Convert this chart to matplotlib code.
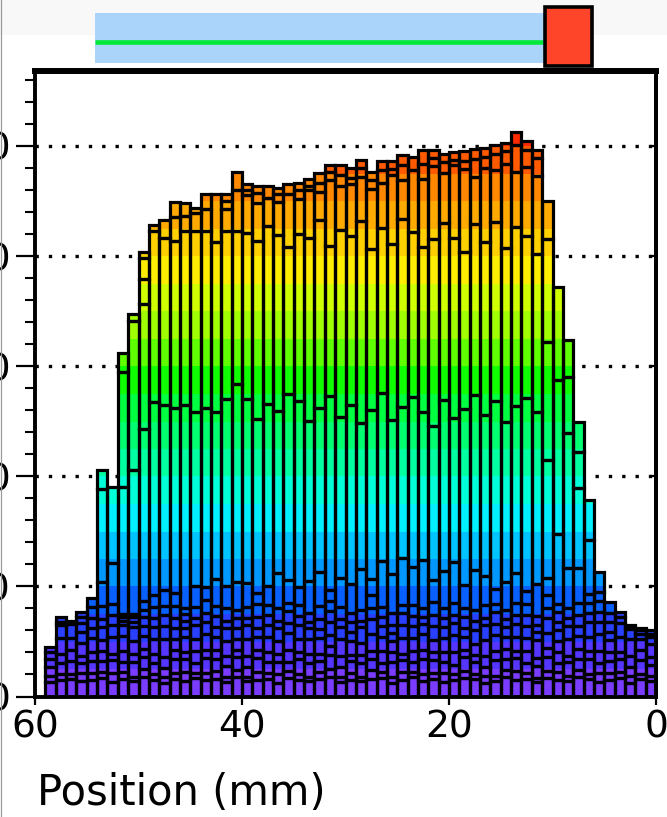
import numpy as np
import matplotlib
matplotlib.use('Agg')
import matplotlib.pyplot as plt
from matplotlib.colors import ListedColormap, BoundaryNorm
from matplotlib.path import Path
from matplotlib.patches import PathPatch, Rectangle
from matplotlib.ticker import MultipleLocator

plt.rcParams['font.family'] = ['DejaVu Sans']

# 1 mm bins, left edge of each bin (position in mm)
bin_left = np.arange(59)

# total height of each bin (bin 0 = 0-1 mm)
totals = [6.0, 6.2, 6.5, 7.7, 8.6, 11.3, 17.8, 24.9, 32.4, 37.2,
          45.0, 49.6, 50.4, 51.3, 50.3, 50.1, 49.8, 49.7, 49.5, 49.4,
          49.3, 49.6, 49.6, 49.0, 49.2, 48.6, 48.6, 47.6, 48.7, 48.0,
          48.3, 48.3, 47.5, 47.0, 46.6, 46.5, 46.2, 46.4, 46.4, 46.5,
          47.6, 45.6, 45.6, 45.6, 44.4, 44.8, 44.9, 43.3, 42.8, 40.4,
          34.7, 31.2, 19.0, 20.6, 8.9, 7.7, 6.9, 7.2, 4.5]

# thin stacked layers at the bottom of every bin
s1 = [1.4, 1.6, 1.2, 1.7, 1.5, 1.3, 1.6, 1.8, 1.4, 1.5,
      1.7, 1.3, 1.6, 1.5, 1.8, 1.4, 1.2, 1.6, 1.7, 1.5,
      1.3, 1.6, 1.4, 1.8, 1.5, 1.2, 1.7, 1.6, 1.4, 1.5,
      1.3, 1.8, 1.6, 1.4, 1.5, 1.7, 1.2, 1.6, 1.5, 1.4,
      1.8, 1.3, 1.6, 1.5, 1.7, 1.4, 1.6, 1.2, 1.5, 1.8,
      1.4, 1.6, 1.3, 1.7, 1.5, 1.4, 1.6, 1.5, 1.3]
s2 = [0.5, 0.4, 0.7, 0.5, 0.6, 0.8, 0.4, 0.6, 0.5, 0.7,
      0.6, 0.4, 0.5, 0.8, 0.6, 0.5, 0.7, 0.4, 0.6, 0.5,
      0.8, 0.5, 0.6, 0.4, 0.7, 0.6, 0.5, 0.8, 0.4, 0.6,
      0.5, 0.7, 0.6, 0.4, 0.5, 0.6, 0.8, 0.5, 0.7, 0.4,
      0.6, 0.5, 0.7, 0.6, 0.4, 0.8, 0.5, 0.6, 0.5, 0.7,
      0.4, 0.6, 0.8, 0.5, 0.6, 0.7, 0.4, 0.5, 0.6]
s3 = [1.0, 1.3, 0.8, 1.2, 1.1, 0.9, 1.4, 1.0, 1.2, 0.8,
      1.3, 1.1, 0.9, 1.2, 1.0, 1.4, 0.8, 1.1, 1.3, 0.9,
      1.0, 1.2, 1.4, 0.9, 1.1, 1.3, 0.8, 1.0, 1.2, 1.1,
      0.9, 1.3, 1.0, 1.2, 1.4, 0.8, 1.1, 1.0, 1.3, 0.9,
      1.2, 1.0, 1.1, 1.4, 0.9, 1.2, 1.3, 0.8, 1.0, 1.1,
      1.3, 0.9, 1.2, 1.0, 1.1, 0.9, 1.2, 1.0, 0.8]
s4 = [0.7, 0.9, 1.0, 0.6, 0.8, 1.1, 0.7, 0.9, 0.6, 1.0,
      0.8, 0.7, 1.1, 0.6, 0.9, 0.8, 1.0, 0.7, 0.6, 1.1,
      0.9, 0.7, 0.8, 1.0, 0.6, 0.9, 1.1, 0.7, 0.8, 0.6,
      1.0, 0.8, 0.7, 0.9, 0.6, 1.1, 0.8, 0.9, 0.7, 1.0,
      0.6, 0.9, 0.8, 0.7, 1.1, 0.6, 0.8, 1.0, 0.9, 0.7,
      0.8, 1.0, 0.6, 0.9, 0.8, 0.7, 1.0, 0.9, 0.7]
s5 = [1.2, 1.0, 1.5, 1.4, 1.1, 1.6, 1.3, 1.2, 1.5, 1.0,
      1.4, 1.6, 1.2, 1.3, 1.1, 1.5, 1.4, 1.0, 1.2, 1.6,
      1.3, 1.1, 1.5, 1.2, 1.4, 1.0, 1.3, 1.6, 1.1, 1.2,
      1.5, 1.0, 1.4, 1.3, 1.2, 1.6, 1.1, 1.4, 1.2, 1.5,
      1.0, 1.3, 1.2, 1.5, 1.1, 1.4, 1.0, 1.6, 1.3, 1.2,
      1.1, 1.4, 1.5, 1.0, 1.3, 1.2, 1.1, 1.4, 0.6]
s6 = [0.6, 0.5, 0.9, 1.3, 0.8, 1.1, 1.4, 0.9, 1.2, 1.0,
      1.3, 0.8, 1.1, 1.2, 0.9, 1.0, 1.4, 1.2, 0.8, 1.1,
      1.0, 1.3, 0.9, 1.1, 1.2, 0.8, 1.0, 1.3, 1.4, 0.9,
      1.1, 1.2, 0.8, 1.0, 1.3, 0.9, 1.2, 1.1, 0.8, 1.3,
      1.0, 1.2, 0.9, 1.1, 1.3, 0.8, 1.0, 1.2, 1.1, 0.9,
      1.3, 1.0, 1.1, 1.2, 0.9, 1.0, 1.3, 1.2, 0.0]
s7 = [0.3, 0.3, 0.2, 0.5, 0.9, 0.9, 0.8, 1.0, 0.7, 0.8,
      0.9, 0.6, 1.0, 0.8, 0.7, 1.1, 0.6, 0.9, 1.0, 0.7,
      0.8, 1.0, 0.6, 0.9, 1.1, 0.7, 0.8, 1.0, 0.6, 0.9,
      0.7, 1.0, 0.9, 0.6, 0.8, 1.1, 0.7, 0.9, 1.0, 0.6,
      0.9, 0.7, 1.0, 0.8, 0.6, 0.7, 0.9, 1.0, 0.8, 0.8,
      0.5, 0.4, 0.9, 0.7, 0.9, 0.8, 0.0, 0.3, 0.0]
s8 = [0.0, 0.0, 0.0, 0.0, 0.8, 1.0, 0.9, 1.1, 0.9, 0.9,
      1.2, 0.8, 1.0, 1.1, 0.9, 0.7, 1.2, 1.0, 0.8, 1.1,
      0.9, 1.2, 0.8, 1.0, 0.7, 1.1, 0.9, 1.2, 1.0, 0.8,
      1.1, 0.9, 1.2, 0.8, 1.0, 0.7, 1.1, 0.9, 1.2, 1.0,
      0.8, 1.1, 0.9, 1.2, 1.0, 0.6, 1.1, 0.8, 1.0, 0.7,
      0.4, 0.3, 1.0, 1.2, 1.0, 0.5, 0.0, 0.0, 0.0]

nan = np.nan
# heights of the larger segment boundaries in each bin (nan = none)
lvl_blue = [nan, nan, nan, nan, nan, 9.5, 9.3, 11.7, 11.7, 8.4,
            10.8, 10.2, 9.6, 11.2, 10.4, 9.8, 10.9, 11.5, 10.1, 12.2,
            11.4, 10.6, 12.4, 11.8, 12.6, 11.1, 12.3, 10.7, 11.6, 10.2,
            10.8, 9.7, 11.3, 10.5, 9.9, 10.6, 11.2, 10.0, 9.4, 10.3,
            10.4, 10.0, 10.7, 9.9, 10.0, 8.0, 9.4, 9.7, 9.2, 8.7,
            7.5, 7.5, 12.1, 10.4, nan, nan, nan, nan, nan]
lvl_cyan = [nan, nan, nan, nan, nan, nan, 14.2, 18.9, 23.9, 14.8,
            21.5, 25.8, 27.1, 26.4, 24.9, 26.8, 25.6, 27.4, 26.1, 25.3,
            26.9, 24.6, 25.8, 27.2, 26.3, 25.1, 27.6, 26.0, 24.8, 26.5,
            25.4, 27.3, 26.2, 25.0, 26.8, 27.5, 25.9, 26.6, 25.2, 27.0,
            28.4, 27.0, 25.8, 26.2, 25.8, 26.5, 26.2, 26.5, 26.7, 24.3,
            20.6, 19.0, nan, 18.8, nan, nan, nan, nan, nan]
lvl_green = [nan, nan, nan, nan, nan, nan, nan, 22.2, 29.0, 28.7,
             32.2, 40.2, 41.8, 42.6, 40.7, 43.1, 41.3, 42.9, 40.4, 41.6,
             43.0, 41.5, 40.8, 42.2, 43.4, 41.1, 42.5, 40.6, 43.2, 41.8,
             42.4, 40.9, 43.3, 41.6, 42.0, 40.8, 41.9, 42.7, 41.4, 42.1,
             42.3, 42.3, 41.3, 42.3, 42.3, 42.3, 41.4, 41.6, 42.3, 35.6,
             34.1, 29.5, nan, nan, nan, nan, nan, nan, nan]
lvl_orange = [nan, nan, nan, nan, nan, nan, nan, nan, nan, nan,
              41.5, 47.3, 48.1, 47.6, 48.4, 47.8, 48.0, 47.2, 47.9, 48.3,
              47.5, 48.2, 47.0, 47.8, 46.9, 47.4, 46.6, 46.1, 47.2, 46.5,
              46.4, 46.9, 45.8, 46.0, 45.2, 45.6, 44.9, 45.3, 44.8, 45.5,
              46.0, 44.3, nan, 44.3, 43.9, 43.6, 43.5, nan, nan, 37.9,
              nan, nan, nan, nan, nan, nan, nan, nan, nan]
lvl_top = [nan, nan, nan, nan, nan, nan, nan, nan, nan, nan,
           nan, 48.9, 49.6, 50.1, 49.5, 49.3, 49.0, 48.8, 48.6, 48.7,
           48.5, 48.9, 48.4, nan, 48.3, 47.9, 47.8, 46.9, 48.0, 47.1,
           47.4, 47.6, 46.6, 46.4, 46.0, nan, 45.6, nan, 45.7, 46.0,
           nan, 45.0, nan, nan, nan, nan, nan, nan, nan, 39.8,
           nan, nan, nan, nan, nan, nan, nan, nan, nan]

# height colour bands, bottom to top, 2.5 units each
band_colors = ['#7a3cff', '#5536ff', '#2a40ff', '#0860ff', '#0098ff',
               '#00c4ff', '#00f0ff', '#00ffd8', '#00ffa0', '#00ff70',
               '#00ff40', '#10ff00', '#60ff00', '#a0ff00', '#d0ff00',
               '#ffee00', '#ffd000', '#ffaa00', '#ff8800', '#ff5a00',
               '#ff2a00']

W, H = 667, 817
fig = plt.figure(figsize=(W / 100, H / 100), dpi=100)
fig.patch.set_facecolor('white')
ax = fig.add_axes([35 / W, 1 - 696.5 / H, 621 / W, 625.5 / H])
ymax = 56.8

# banded gradient, clipped to the outline of the bars
edges = np.arange(len(band_colors) + 1) * 2.5
cmap = ListedColormap(band_colors)
cmap.set_over(band_colors[-1])
norm = BoundaryNorm(edges, len(band_colors))
yy = np.linspace(0, ymax, 1200).reshape(-1, 1)
im = ax.imshow(yy, cmap=cmap, norm=norm, origin='lower', aspect='auto',
               extent=[0, 60, 0, ymax], interpolation='nearest', zorder=2)

verts, codes = [], []
for x0, t in zip(bin_left, totals):
    verts += [(x0, 0), (x0 + 1, 0), (x0 + 1, t), (x0, t), (x0, 0)]
    codes += [Path.MOVETO, Path.LINETO, Path.LINETO, Path.LINETO, Path.CLOSEPOLY]
clip = PathPatch(Path(verts, codes), transform=ax.transData,
                 facecolor='none', edgecolor='none')
ax.add_patch(clip)
im.set_clip_path(clip)

# outlines of the stacked segments
small = np.array([s1, s2, s3, s4, s5, s6, s7, s8])
levels = np.array([lvl_blue, lvl_cyan, lvl_green, lvl_orange, lvl_top])
for i in range(len(totals)):
    b = [0.0] + list(np.cumsum(small[:, i]))
    b += [v for v in levels[:, i] if np.isfinite(v)]
    b.append(totals[i])
    b = np.array(sorted(set(np.round(b, 3))))
    b = b[b <= totals[i]]
    h = np.diff(b)
    keep = h > 1e-6
    ax.bar(np.full(keep.sum(), bin_left[i]), h[keep], bottom=b[:-1][keep],
           width=1, align='edge', fill=False, edgecolor='black',
           linewidth=2.3, zorder=3)

ax.set_xlim(60, 0)
ax.set_ylim(0, ymax)

# axes styling
ax.set_yticks([0, 10, 20, 30, 40, 50])
ax.yaxis.set_minor_locator(MultipleLocator(2))
ax.set_xticks([60, 40, 20, 0])
ax.set_axisbelow(True)
ax.yaxis.grid(True, linestyle=(0, (1, 3.0)), linewidth=2.4, color='black')
ax.tick_params(axis='y', which='major', direction='out', length=14,
               width=1.6, labelsize=27, pad=3.5)
ax.tick_params(axis='y', which='minor', direction='out', length=7, width=1.5)
ax.tick_params(axis='x', which='major', direction='out', length=6,
               width=1.6, labelsize=27, pad=3)
for side in ['left', 'right', 'bottom']:
    ax.spines[side].set_linewidth(2.8)
ax.spines['top'].set_linewidth(4.3)

sec = ax.secondary_yaxis('right')
sec.set_yticks([10, 20, 30, 40, 50])
sec.tick_params(direction='in', length=4, width=1.6, labelright=False)
sec.spines['right'].set_linewidth(2.8)

fig.text(37 / W, 1 - 805 / H, 'Position (mm)', fontsize=30,
         ha='left', va='baseline')

# strip above the plot
ov = fig.add_axes([0, 0, 1, 1], zorder=5)
ov.set_xlim(0, W)
ov.set_ylim(H, 0)
ov.axis('off')
ov.patch.set_alpha(0)
ov.add_patch(Rectangle((0, 0), W, 35, facecolor='#f8f8f8', edgecolor='none', zorder=0))
ov.add_patch(Rectangle((95, 13), 449, 50, facecolor='#aad4fa', edgecolor='none', zorder=1))
ov.plot([95, 543], [41.5, 41.5], color='#00e83a', linewidth=3.3, zorder=2,
        solid_capstyle='butt')
ov.add_patch(Rectangle((545, 7), 47, 59, facecolor='#ff4529', edgecolor='black',
                       linewidth=2.6, zorder=3))
ov.plot([1, 1], [0, H], color='#9a9a9a', linewidth=0.9, zorder=4)

fig.savefig('out.png', dpi=100)
